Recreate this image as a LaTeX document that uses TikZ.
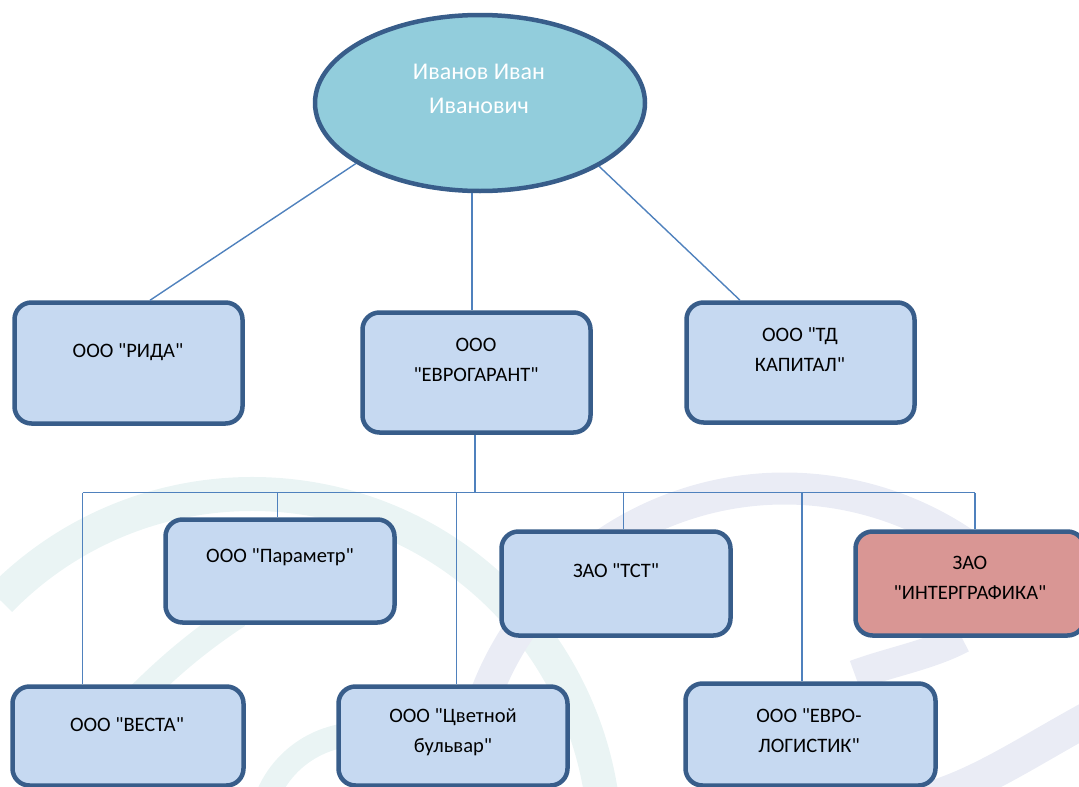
\documentclass[tikz,border=0pt]{standalone}
\usepackage{fontspec}
\newfontfamily\orgfont{Carlito}
\usetikzlibrary{calc,shapes.geometric}
\definecolor{boxline}{HTML}{385D8A}
\definecolor{boxfill}{HTML}{C6D9F1}
\definecolor{ellfill}{HTML}{92CDDC}
\definecolor{redfill}{HTML}{D99694}
\definecolor{connblue}{HTML}{4F81BD}
\definecolor{wteal}{HTML}{EAF4F4}
\definecolor{wlav}{HTML}{EAECF5}
\begin{document}
\begin{tikzpicture}[x=1pt,y=-1pt,
  orgbox/.style={draw=boxline, line width=4.5pt, fill=boxfill, rounded corners=17pt, inner sep=0pt},
  lbl/.style={align=center, font=\orgfont\fontsize{20.5}{30}\selectfont, inner sep=0pt},
  conn/.style={draw=connblue, line width=1.4pt},
  wmteal/.style={draw=wteal, line width=34pt},
  wmlav/.style={draw=wlav, line width=32pt}]
\useasboundingbox (0,0) rectangle (1079,787);
\clip (0,0) rectangle (1079,787);
% watermark
\draw[wmteal] (0,600) arc[start angle=-135.6, end angle=-5, radius=353];
\draw[wmteal, line width=24pt] (266,800) arc[start angle=-160, end angle=-70, radius=100];
\draw[wmteal, line width=26pt] (238,615) .. controls (200,640) and (170,665) .. (135,700);
\draw[wmlav] (468,764) arc[start angle=-172, end angle=-40, radius=320];
\draw[wmlav, line width=30pt] (962,638) .. controls (930,655) and (890,662) .. (855,675);
\draw[wmlav, line width=34pt] (925,800) .. controls (980,785) and (1030,750) .. (1095,715);
% shapes
\node[ellipse, draw=boxline, line width=4.5pt, fill=ellfill, minimum width=330pt, minimum height=176pt, inner sep=0pt] (boss) at (480,103) {};
\node[orgbox, minimum width=228pt, minimum height=121pt] (rida) at (128.5,363) {};
\node[orgbox, minimum width=228pt, minimum height=120pt] (evro) at (476.5,372.5) {};
\node[orgbox, minimum width=228pt, minimum height=120pt] (td) at (800.5,362.5) {};
\node[orgbox, minimum width=229pt, minimum height=103pt] (param) at (280,571) {};
\node[orgbox, minimum width=229pt, minimum height=104pt] (tst) at (616,583.5) {};
\node[orgbox, fill=redfill, minimum width=229pt, minimum height=104pt] (inter) at (970,583.5) {};
\node[orgbox, minimum width=231pt, minimum height=99pt] (vesta) at (128,736) {};
\node[orgbox, minimum width=229pt, minimum height=99pt] (cvet) at (453,736) {};
\node[orgbox, minimum width=250pt, minimum height=102pt] (evrolog) at (810.5,734.5) {};
% connectors
\coordinate (m) at (472,0);
\coordinate (bj) at (475,492.5);
\coordinate (bl) at (82.5,492.5);
\coordinate (br) at (975,492.5);
\coordinate (d2) at (277.5,492.5);
\coordinate (d3) at (456.5,492.5);
\coordinate (d4) at (623.5,492.5);
\coordinate (d5) at (802,492.5);
\draw[conn] (boss.206) -- ($(rida.north)+(21.5,0)$);
\draw[conn] (boss.332) -- ($(td.north)+(-60.5,0)$);
\draw[conn] (boss.south -| m) -- (evro.north -| m);
\draw[conn] (evro.south -| bj) -- (bj);
\draw[conn] (bl) -- (br);
\draw[conn] (bl) -- (vesta.north -| bl);
\draw[conn] (d2) -- (param.north -| d2);
\draw[conn] (d3) -- (cvet.north -| d3);
\draw[conn] (d4) -- (tst.north -| d4);
\draw[conn] (d5) -- (evrolog.north -| d5);
\draw[conn] (br) -- (inter.north -| br);
% labels
\node[lbl, text=white, font=\orgfont\fontsize{24}{34}\selectfont] (boss-t) at (479,89) {Иванов Иван\\Иванович};
\node[lbl] (rida-t) at (128,352) {ООО "РИДА"};
\node[lbl] (evro-t) at (476,360) {ООО\\"ЕВРОГАРАНТ"};
\node[lbl] (td-t) at (800,350) {ООО "ТД\\КАПИТАЛ"};
\node[lbl] (param-t) at (280,557) {ООО "Параметр"};
\node[lbl] (tst-t) at (616,571) {ЗАО "ТСТ"};
\node[lbl] (inter-t) at (970,577.5) {ЗАО\\"ИНТЕРГРАФИКА"};
\node[lbl] (vesta-t) at (127,725) {ООО "ВЕСТА"};
\node[lbl] (cvet-t) at (453,732.5) {ООО "Цветной\\бульвар"};
\node[lbl] (evrolog-t) at (809,730.5) {ООО "ЕВРО-\\ЛОГИСТИК"};
\end{tikzpicture}
\end{document}
